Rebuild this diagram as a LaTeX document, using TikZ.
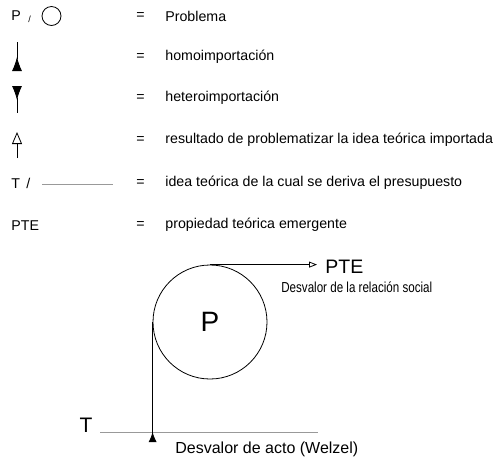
\documentclass[tikz,border=0pt]{standalone}
\usepackage{fontspec}
\setmainfont{Liberation Sans}
\usetikzlibrary{arrows.meta}

\begin{document}
\begin{tikzpicture}[x=1pt,y=-1pt,line width=0.8pt,
  legend/.style={anchor=west,inner sep=0pt,font=\fontsize{14.2}{16}\selectfont},
  homo/.style={{Latex[reversed,length=14pt,width=10pt]}-},
  result/.style={-{Triangle[open,length=12pt,width=10pt]}},
  theory/.style={draw=black!40}]
  \useasboundingbox (0,0) rectangle (502,459);
  % legend
  \node[legend] (lp) at (11,16) {P};
  \node[legend,font=\fontsize{9}{10}\selectfont] (ls) at (28,19) {/};
  \node[draw,circle,minimum size=19pt,inner sep=0pt] (lc) at (51.5,16) {};
  \coordinate (h1) at (17,71);
  \coordinate (h2) at (17,42);
  \draw[homo] (h1) -- (h2);
  \coordinate (e1) at (17,86);
  \coordinate (e2) at (17,113);
  \draw[homo] (e1) -- (e2);
  \coordinate (r1) at (17,158);
  \coordinate (r2) at (17,132);
  \draw[result] (r1) -- (r2);
  \node[legend] (lt) at (11,183) {T\, /};
  \coordinate (t1) at (42,184);
  \coordinate (t2) at (113,184);
  \draw[theory] (t1) -- (t2);
  \node[legend] (lpte) at (11,226) {PTE};
  \foreach \y/\txt [count=\i] in {16/Problema,57/homoimportación,98/heteroimportación,
      140/resultado de problematizar la idea teórica importada,
      183/idea teórica de la cual se deriva el presupuesto,
      225/propiedad teórica emergente}{
    \node[legend] (eq\i) at (136,\y) {=};
    \node[legend] (def\i) at (165,\y) {\txt};
  }
  % diagram
  \node[draw,circle,minimum size=114pt,inner sep=0pt,font=\fontsize{28}{30}\selectfont] (P) at (210,322) {P};
  \node[anchor=west,inner sep=4pt,font=\fontsize{19.5}{21}\selectfont] (PTE) at (321,267) {PTE};
  \draw[-{Triangle[open,length=8pt,width=6pt]},shorten >=4pt] (P.north) -- (P.north -| PTE.west);
  \node[anchor=west,inner sep=0pt,xscale=0.8,font=\fontsize{14.5}{16}\selectfont] (rel) at (281,287) {Desvalor de la relación social};
  \coordinate (tl) at (100,432);
  \coordinate (tr) at (318,432);
  \draw[theory] (tl) -- (tr);
  \node[anchor=base,inner sep=0pt,font=\fontsize{21}{23}\selectfont] (T) at (86,432) {T};
  \coordinate (a) at (P.west |- 0,442);
  \draw[{Latex[reversed,length=10pt,width=8pt]}-] (a) -- (P.west);
  \node[anchor=west,inner sep=0pt,font=\fontsize{16}{18}\selectfont] (acto) at (175,449) {Desvalor de acto (Welzel)};
\end{tikzpicture}
\end{document}
